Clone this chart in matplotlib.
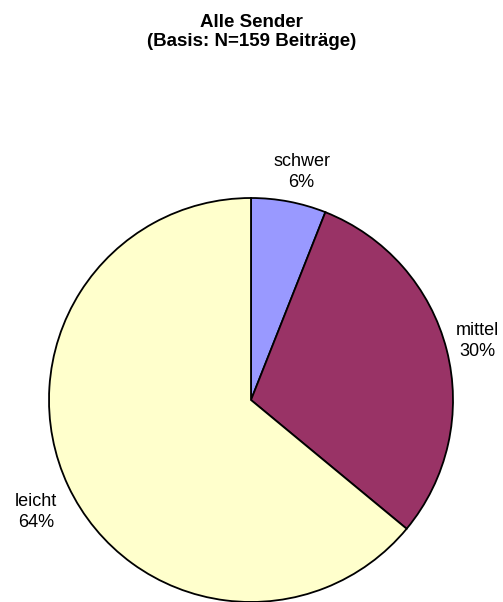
import matplotlib.pyplot as plt

plt.rcParams['font.family'] = ['Liberation Sans', 'DejaVu Sans']

# Anteile nach Schwierigkeitsgrad (in %)
categories = ['schwer', 'mittel', 'leicht']
shares = [6, 30, 64]
colors = ['#9999FF', '#993366', '#FFFFCC']

fig = plt.figure(figsize=(5.03, 6.02), dpi=100)
W, H = 503, 602
cx, cy, r = 251, 400, 202
ax = fig.add_axes([(cx - r) / W, (H - cy - r) / H, 2 * r / W, 2 * r / H])

wedges, _ = ax.pie(shares, colors=colors, startangle=90, counterclock=False,
                   radius=1, wedgeprops=dict(edgecolor='black', linewidth=1.3))
ax.set_xlim(-1, 1)
ax.set_ylim(-1, 1)
ax.set_aspect('equal')
ax.axis('off')

# Beschriftungen ausserhalb des Kreises (Position in Radius-Einheiten)
label_pos = [(0.25, 1.13), (1.12, 0.29), (-1.065, -0.555)]
for (lx, ly), cat, val in zip(label_pos, categories, shares):
    ax.text(lx, ly, f'{cat}\n{val}%', ha='center', va='center',
            fontsize=13, linespacing=1.3, clip_on=False)

# Titel in zwei Zeilen
fig.text(0.5, 1 - 27 / H, 'Alle Sender', ha='center', va='baseline',
         fontsize=13.5, fontweight='bold')
fig.text(0.5, 1 - 46 / H, '(Basis: N=159 Beiträge)', ha='center',
         va='baseline', fontsize=13.5, fontweight='bold')

fig.savefig('out.png', dpi=100)
